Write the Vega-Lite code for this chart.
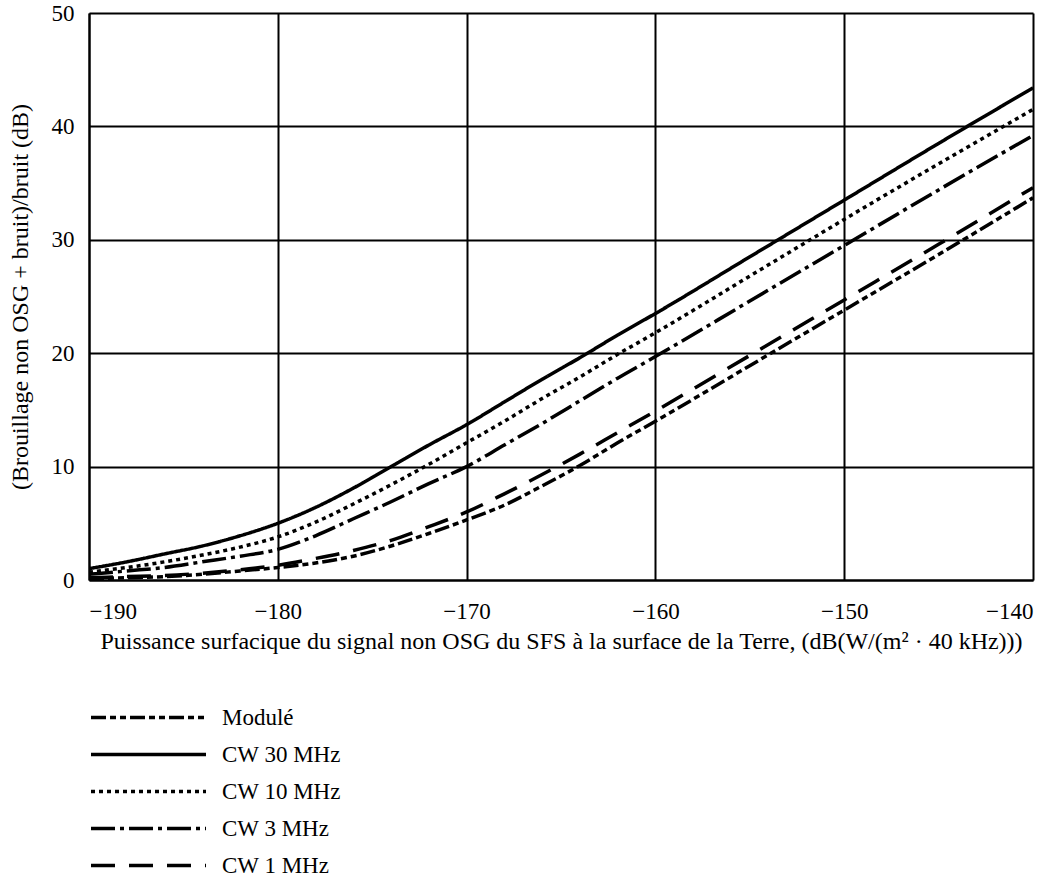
{
  "$schema": "https://vega.github.io/schema/vega-lite/v6.json",
  "width": 944,
  "height": 567,
  "autosize": {"type": "none"},
  "padding": {"left": 89, "top": 13, "right": 30, "bottom": 301},
  "background": "white",
  "config": {
    "font": "Liberation Serif",
    "view": {"stroke": null},
    "axis": {
      "grid": true,
      "gridColor": "black",
      "gridOpacity": 1,
      "gridWidth": 2,
      "domainColor": "black",
      "domainWidth": 2,
      "ticks": false,
      "labelFont": "Liberation Serif",
      "labelFontSize": 23,
      "labelColor": "black",
      "titleFont": "Liberation Serif",
      "titleFontSize": 24,
      "titleFontWeight": "normal",
      "titleColor": "black"
    },
    "legend": {
      "orient": "none",
      "legendX": 0,
      "legendY": 686,
      "direction": "vertical",
      "symbolType": "stroke",
      "symbolSize": 13225,
      "symbolStrokeWidth": 3.5,
      "symbolStrokeColor": "black",
      "labelFont": "Liberation Serif",
      "labelFontSize": 23,
      "labelColor": "black",
      "labelOffset": 14,
      "clipHeight": 37,
      "rowPadding": 0
    }
  },
  "data": {
    "values": [
      {"x": -190, "y": 0.1, "s": "Modulé"},
      {"x": -188, "y": 0.2, "s": "Modulé"},
      {"x": -186, "y": 0.3, "s": "Modulé"},
      {"x": -184, "y": 0.5, "s": "Modulé"},
      {"x": -182, "y": 0.8, "s": "Modulé"},
      {"x": -180, "y": 1.1, "s": "Modulé"},
      {"x": -178, "y": 1.5, "s": "Modulé"},
      {"x": -176, "y": 2.1, "s": "Modulé"},
      {"x": -174, "y": 3.0, "s": "Modulé"},
      {"x": -172, "y": 4.1, "s": "Modulé"},
      {"x": -170, "y": 5.3, "s": "Modulé"},
      {"x": -168, "y": 6.6, "s": "Modulé"},
      {"x": -166, "y": 8.3, "s": "Modulé"},
      {"x": -164, "y": 10.1, "s": "Modulé"},
      {"x": -162, "y": 12.1, "s": "Modulé"},
      {"x": -160, "y": 14.0, "s": "Modulé"},
      {"x": -155, "y": 18.9, "s": "Modulé"},
      {"x": -150, "y": 23.8, "s": "Modulé"},
      {"x": -145, "y": 28.7, "s": "Modulé"},
      {"x": -140, "y": 33.7, "s": "Modulé"},

      {"x": -190, "y": 1.0, "s": "CW 30 MHz"},
      {"x": -188, "y": 1.6, "s": "CW 30 MHz"},
      {"x": -186, "y": 2.3, "s": "CW 30 MHz"},
      {"x": -184, "y": 3.0, "s": "CW 30 MHz"},
      {"x": -182, "y": 3.9, "s": "CW 30 MHz"},
      {"x": -180, "y": 5.0, "s": "CW 30 MHz"},
      {"x": -178, "y": 6.4, "s": "CW 30 MHz"},
      {"x": -176, "y": 8.1, "s": "CW 30 MHz"},
      {"x": -174, "y": 10.0, "s": "CW 30 MHz"},
      {"x": -172, "y": 11.9, "s": "CW 30 MHz"},
      {"x": -170, "y": 13.7, "s": "CW 30 MHz"},
      {"x": -168, "y": 15.7, "s": "CW 30 MHz"},
      {"x": -166, "y": 17.7, "s": "CW 30 MHz"},
      {"x": -164, "y": 19.6, "s": "CW 30 MHz"},
      {"x": -162, "y": 21.6, "s": "CW 30 MHz"},
      {"x": -160, "y": 23.5, "s": "CW 30 MHz"},
      {"x": -155, "y": 28.5, "s": "CW 30 MHz"},
      {"x": -150, "y": 33.5, "s": "CW 30 MHz"},
      {"x": -145, "y": 38.5, "s": "CW 30 MHz"},
      {"x": -140, "y": 43.4, "s": "CW 30 MHz"},

      {"x": -190, "y": 0.7, "s": "CW 10 MHz"},
      {"x": -188, "y": 1.1, "s": "CW 10 MHz"},
      {"x": -186, "y": 1.6, "s": "CW 10 MHz"},
      {"x": -184, "y": 2.2, "s": "CW 10 MHz"},
      {"x": -182, "y": 2.9, "s": "CW 10 MHz"},
      {"x": -180, "y": 3.8, "s": "CW 10 MHz"},
      {"x": -178, "y": 5.1, "s": "CW 10 MHz"},
      {"x": -176, "y": 6.7, "s": "CW 10 MHz"},
      {"x": -174, "y": 8.4, "s": "CW 10 MHz"},
      {"x": -172, "y": 10.2, "s": "CW 10 MHz"},
      {"x": -170, "y": 12.1, "s": "CW 10 MHz"},
      {"x": -168, "y": 14.0, "s": "CW 10 MHz"},
      {"x": -166, "y": 16.0, "s": "CW 10 MHz"},
      {"x": -164, "y": 17.9, "s": "CW 10 MHz"},
      {"x": -162, "y": 19.9, "s": "CW 10 MHz"},
      {"x": -160, "y": 21.8, "s": "CW 10 MHz"},
      {"x": -155, "y": 26.8, "s": "CW 10 MHz"},
      {"x": -150, "y": 31.8, "s": "CW 10 MHz"},
      {"x": -145, "y": 36.7, "s": "CW 10 MHz"},
      {"x": -140, "y": 41.5, "s": "CW 10 MHz"},

      {"x": -190, "y": 0.5, "s": "CW 3 MHz"},
      {"x": -188, "y": 0.8, "s": "CW 3 MHz"},
      {"x": -186, "y": 1.1, "s": "CW 3 MHz"},
      {"x": -184, "y": 1.6, "s": "CW 3 MHz"},
      {"x": -182, "y": 2.1, "s": "CW 3 MHz"},
      {"x": -180, "y": 2.7, "s": "CW 3 MHz"},
      {"x": -178, "y": 3.9, "s": "CW 3 MHz"},
      {"x": -176, "y": 5.4, "s": "CW 3 MHz"},
      {"x": -174, "y": 6.9, "s": "CW 3 MHz"},
      {"x": -172, "y": 8.5, "s": "CW 3 MHz"},
      {"x": -170, "y": 10.0, "s": "CW 3 MHz"},
      {"x": -168, "y": 11.9, "s": "CW 3 MHz"},
      {"x": -166, "y": 13.8, "s": "CW 3 MHz"},
      {"x": -164, "y": 15.8, "s": "CW 3 MHz"},
      {"x": -162, "y": 17.8, "s": "CW 3 MHz"},
      {"x": -160, "y": 19.7, "s": "CW 3 MHz"},
      {"x": -155, "y": 24.6, "s": "CW 3 MHz"},
      {"x": -150, "y": 29.5, "s": "CW 3 MHz"},
      {"x": -145, "y": 34.4, "s": "CW 3 MHz"},
      {"x": -140, "y": 39.2, "s": "CW 3 MHz"},

      {"x": -190, "y": 0.2, "s": "CW 1 MHz"},
      {"x": -188, "y": 0.3, "s": "CW 1 MHz"},
      {"x": -186, "y": 0.4, "s": "CW 1 MHz"},
      {"x": -184, "y": 0.6, "s": "CW 1 MHz"},
      {"x": -182, "y": 0.9, "s": "CW 1 MHz"},
      {"x": -180, "y": 1.3, "s": "CW 1 MHz"},
      {"x": -178, "y": 1.9, "s": "CW 1 MHz"},
      {"x": -176, "y": 2.6, "s": "CW 1 MHz"},
      {"x": -174, "y": 3.5, "s": "CW 1 MHz"},
      {"x": -172, "y": 4.7, "s": "CW 1 MHz"},
      {"x": -170, "y": 6.0, "s": "CW 1 MHz"},
      {"x": -168, "y": 7.6, "s": "CW 1 MHz"},
      {"x": -166, "y": 9.3, "s": "CW 1 MHz"},
      {"x": -164, "y": 11.1, "s": "CW 1 MHz"},
      {"x": -162, "y": 13.0, "s": "CW 1 MHz"},
      {"x": -160, "y": 14.9, "s": "CW 1 MHz"},
      {"x": -155, "y": 19.8, "s": "CW 1 MHz"},
      {"x": -150, "y": 24.7, "s": "CW 1 MHz"},
      {"x": -145, "y": 29.6, "s": "CW 1 MHz"},
      {"x": -140, "y": 34.6, "s": "CW 1 MHz"}
    ]
  },
  "mark": {"type": "line", "color": "black", "strokeWidth": 3.5, "interpolate": "monotone", "clip": true},
  "encoding": {
    "x": {
      "field": "x",
      "type": "quantitative",
      "scale": {"domain": [-190, -140], "nice": false, "zero": false},
      "axis": {
        "values": [-190, -180, -170, -160, -150, -140],
        "labelPadding": 20,
        "titlePadding": 6,
        "title": "Puissance surfacique du signal non OSG du SFS à la surface de la Terre, (dB(W/(m² · 40 kHz)))"
      }
    },
    "y": {
      "field": "y",
      "type": "quantitative",
      "scale": {"domain": [0, 50], "nice": false},
      "axis": {
        "values": [0, 10, 20, 30, 40, 50],
        "labelPadding": 15,
        "titlePadding": 19,
        "title": "(Brouillage non OSG + bruit)/bruit (dB)"
      }
    },
    "strokeDash": {
      "field": "s",
      "type": "nominal",
      "scale": {
        "domain": ["Modulé", "CW 30 MHz", "CW 10 MHz", "CW 3 MHz", "CW 1 MHz"],
        "range": [[15, 4, 6, 4, 6, 4], [1, 0], [4, 4], [24, 5, 4, 5], [24, 14]]
      },
      "legend": {"title": null}
    }
  }
}
